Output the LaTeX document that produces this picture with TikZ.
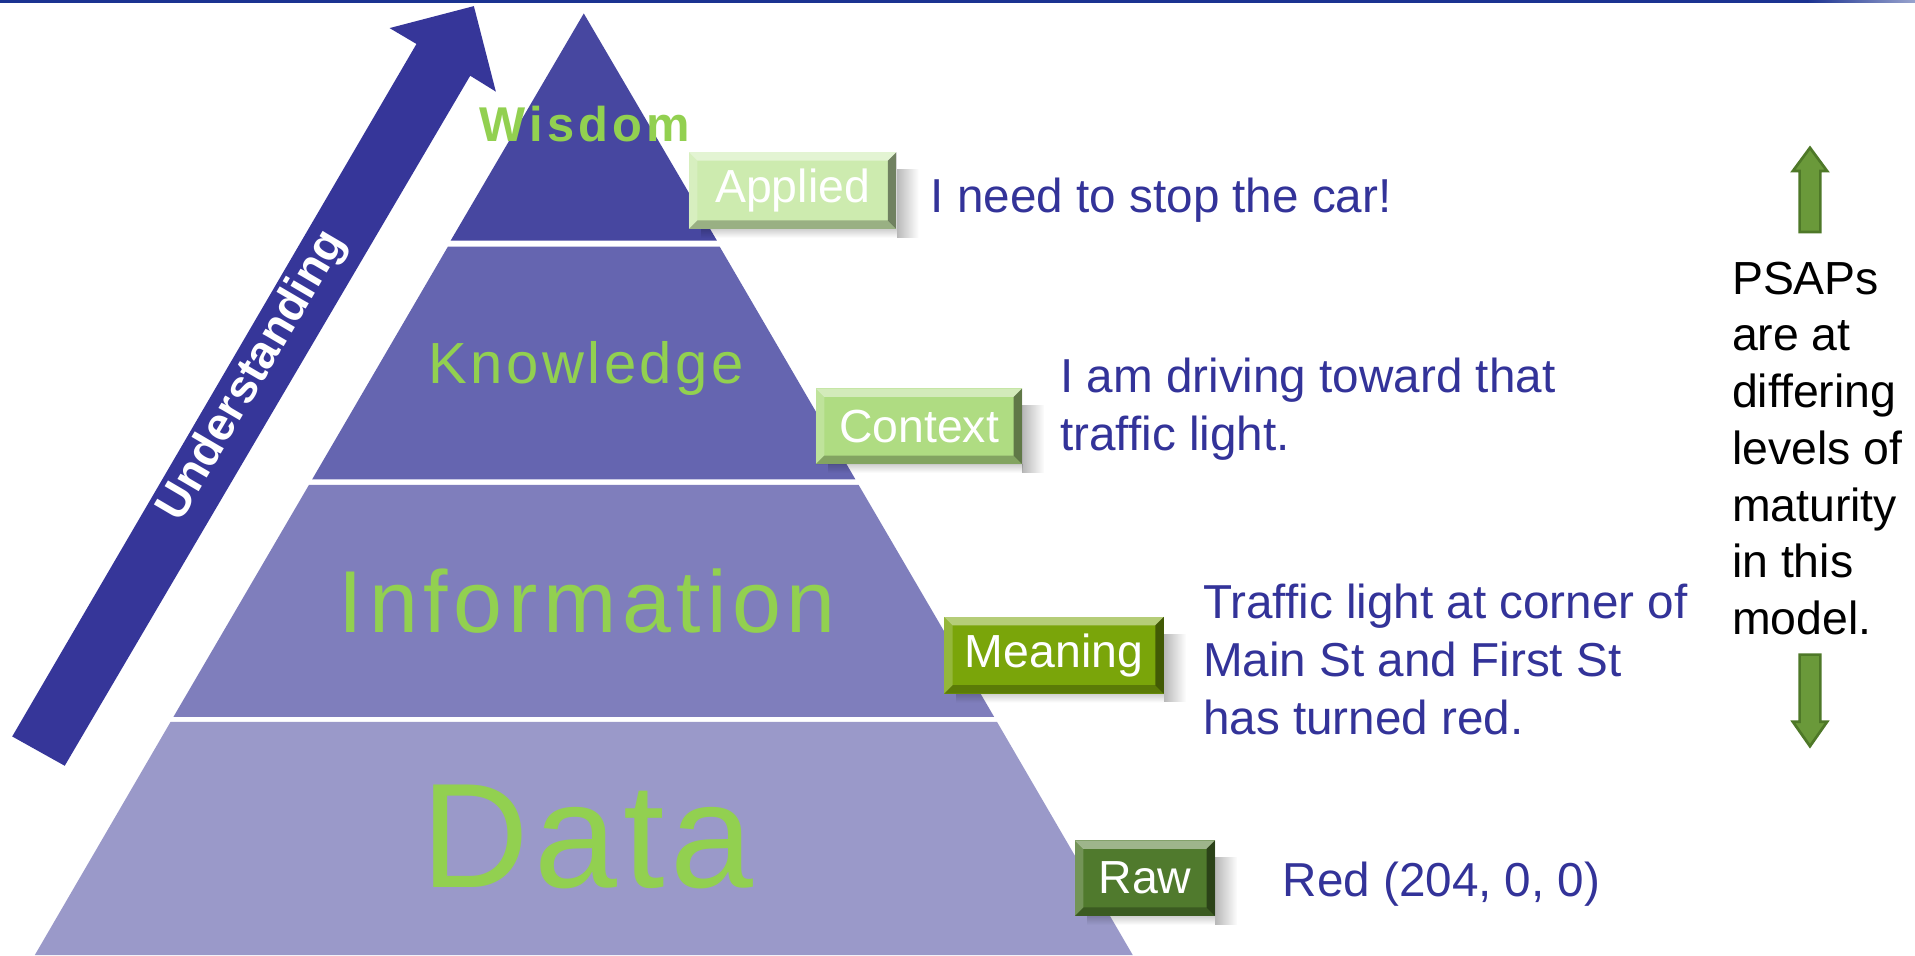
\documentclass[tikz,border=0pt]{standalone}
\usepackage{fontspec}
\setmainfont{Liberation Sans}
\newfontfamily\spfWis[LetterSpace=8.5]{Liberation Sans}
\newfontfamily\spfKno[LetterSpace=6]{Liberation Sans}
\newfontfamily\spfInf[LetterSpace=6.5]{Liberation Sans}
\newfontfamily\spfDat[LetterSpace=4]{Liberation Sans}
\usetikzlibrary{fadings}
\definecolor{lvW}{RGB}{71,71,160}
\definecolor{lvK}{RGB}{101,101,176}
\definecolor{lvI}{RGB}{127,126,188}
\definecolor{lvD}{RGB}{154,153,201}
\definecolor{lbl}{RGB}{146,208,80}
\definecolor{txtblue}{RGB}{51,51,153}
\definecolor{arrblue}{RGB}{54,54,153}
\definecolor{gA}{RGB}{205,235,175}
\definecolor{gC}{RGB}{175,220,130}
\definecolor{gM}{RGB}{122,165,10}
\definecolor{gR}{RGB}{80,122,45}
\definecolor{garf}{RGB}{106,153,58}
\definecolor{gard}{RGB}{78,120,40}
\definecolor{topline}{RGB}{27,51,145}
\tikzset{
  bevbox/.style={rectangle, fill=#1, inner sep=0pt, text=white,
    font=\fontsize{38}{40}\selectfont,
    path picture={
      \fill[white,opacity=.45] (path picture bounding box.north west) -- (path picture bounding box.north east)
        -- ([shift={(-7pt,-7pt)}]path picture bounding box.north east) -- ([shift={(7pt,-7pt)}]path picture bounding box.north west) -- cycle;
      \fill[white,opacity=.2] (path picture bounding box.north west) -- ([shift={(7pt,-7pt)}]path picture bounding box.north west)
        -- ([shift={(7pt,7pt)}]path picture bounding box.south west) -- (path picture bounding box.south west) -- cycle;
      \fill[black,opacity=.45] (path picture bounding box.north east) -- (path picture bounding box.south east)
        -- ([shift={(-7pt,7pt)}]path picture bounding box.south east) -- ([shift={(-7pt,-7pt)}]path picture bounding box.north east) -- cycle;
      \fill[black,opacity=.25] (path picture bounding box.south west) -- (path picture bounding box.south east)
        -- ([shift={(-7pt,7pt)}]path picture bounding box.south east) -- ([shift={(7pt,7pt)}]path picture bounding box.south west) -- cycle;
    }},
  boxshadowR/.style={fill=black, opacity=.28, path fading=east},
  boxshadowB/.style={fill=black, opacity=.18, path fading=south},
  desc/.style={inner sep=0pt, text=txtblue, font=\fontsize{39}{47.5}\selectfont, align=left},
  lvlabel/.style={inner sep=0pt, text=lbl},
  greenarrow/.style={fill=garf, draw=gard, line width=2.2pt, line join=miter},
}
\begin{document}
\begin{tikzpicture}[x=1pt,y=-1pt]
\useasboundingbox (0,0) rectangle (1568,782);
\fill[white] (0,0) rectangle (1568,782);
% top rule
\fill[topline] (0,0) rectangle (1480,2.2);
\shade[left color=topline, right color=topline!45] (1480,0) rectangle (1568,2.2);

% pyramid layers
\fill[lvW] (478,11) -- (587,197) -- (369,197) -- cycle;
\fill[lvK] (366.7,202) -- (589.3,202) -- (700.4,392.5) -- (255.6,392.5) -- cycle;
\fill[lvI] (253,397) -- (703,397) -- (814,587) -- (142,587) -- cycle;
\fill[lvD] (139.7,591) -- (816.3,591) -- (927.5,782) -- (28.5,782) -- cycle;

% level labels
\node[lvlabel, anchor=base, font=\spfWis\bfseries\fontsize{40}{40}\selectfont] (wis) at (479,116) {Wisdom};
\node[lvlabel, anchor=base, font=\spfKno\fontsize{47.5}{48}\selectfont] (kno) at (480,313.6) {Knowledge};
\node[lvlabel, anchor=base, font=\spfInf\fontsize{72}{72}\selectfont] (inf) at (481,518) {Information};
\node[lvlabel, anchor=base, font=\spfDat\fontsize{122}{122}\selectfont] (dat) at (481,727) {Data};

% understanding arrow
\fill[arrblue] (10,603) -- (53,627) -- (385,62) -- (406,75) -- (388,5) -- (319,23) -- (341,36) -- cycle;
\node[rotate=59.6, text=white, inner sep=0pt, font=\bfseries\fontsize{38}{38}\selectfont] (und) at (207,308) {Understanding};

% bevel boxes
\node[bevbox=gA, minimum width=170pt, minimum height=63pt] (app) at (649,156) {Applied};
\node[bevbox=gC, minimum width=169pt, minimum height=62pt] (ctx) at (752.5,349) {Context};
\node[bevbox=gM, minimum width=180pt, minimum height=63pt] (mea) at (863,536.5) {Meaning};
\node[bevbox=gR, minimum width=115pt, minimum height=62pt] (raw) at (937.5,719) {Raw};
\foreach \b in {app,ctx,mea,raw}{
  \fill[boxshadowR] ([yshift=-14pt]\b.north east) rectangle ([xshift=18pt,yshift=-7pt]\b.south east);
  \fill[boxshadowB] ([xshift=10pt]\b.south west) rectangle ([yshift=-7pt]\b.south east);
}

% descriptions
\node[desc, anchor=base west] (dapp) at (762,174) {I need to stop the car!};
\node[desc, anchor=north west] (dctx) at (868,293) {I am driving toward that\\traffic light.};
\node[desc, anchor=north west] (dmea) at (985,478) {Traffic light at corner of\\Main St and First St\\has turned red.};
\node[desc, anchor=base west] (draw) at (1050,734) {Red (204, 0, 0)};

% PSAPs note
\node[inner sep=0pt, anchor=north west, align=left, text=black, font=\fontsize{38}{46.5}\selectfont] (psap) at (1418,214)
  {PSAPs\\are at\\differing\\levels of\\maturity\\in this\\model.};
\filldraw[greenarrow] (1482,121) -- (1496,140) -- (1490.5,140) -- (1490.5,190) -- (1473.5,190) -- (1473.5,140) -- (1468,140) -- cycle;
\filldraw[greenarrow] (1473.5,536) -- (1490.5,536) -- (1490.5,591) -- (1496,591) -- (1482,611) -- (1468,591) -- (1473.5,591) -- cycle;
\end{tikzpicture}
\end{document}
